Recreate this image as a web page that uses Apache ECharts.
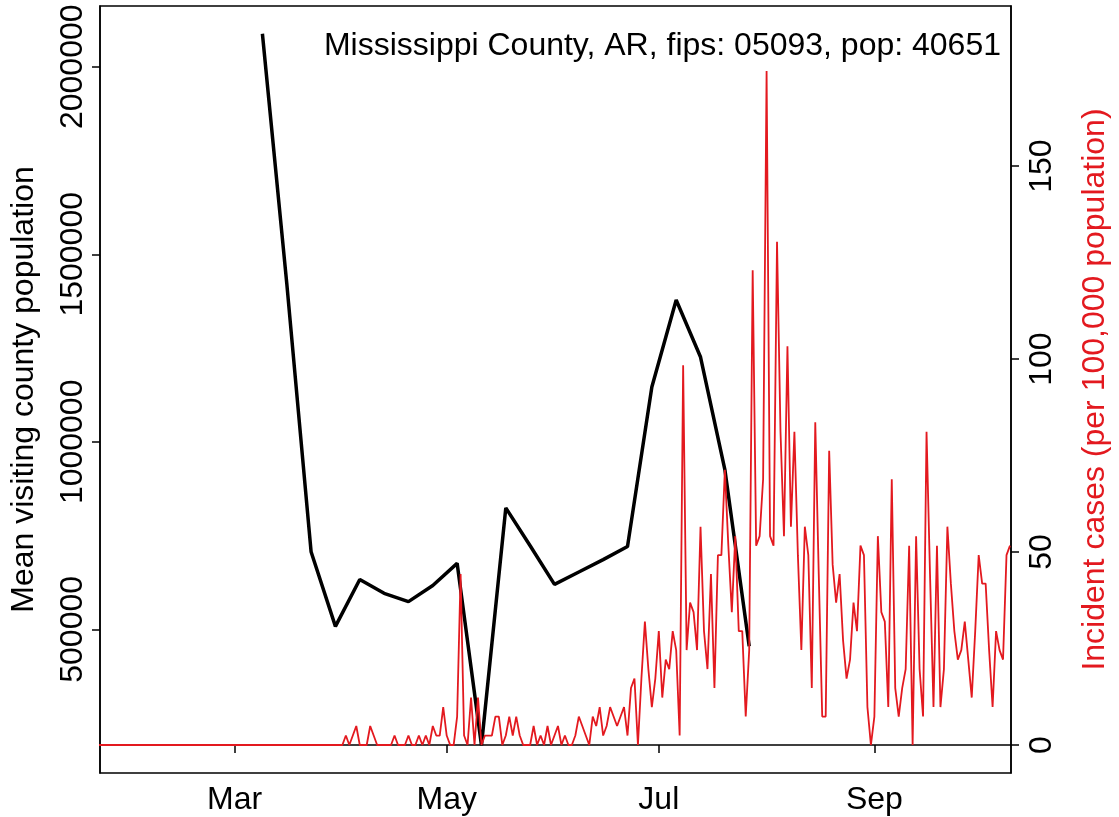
<!DOCTYPE html>
<html>
<head>
<meta charset="utf-8">
<script src="https://cdn.jsdelivr.net/npm/echarts@6/dist/echarts.min.js"></script>
<style>
  html, body { margin: 0; padding: 0; background: #ffffff; }
  #chart { width: 1119px; height: 817px; }
</style>
</head>
<body>
<div id="chart"></div>
<script>
// ---------- data ----------
const titleText = 'Mississippi County, AR, fips: 05093, pop: 40651';
const leftAxisTitle = 'Mean visiting county population';
const rightAxisTitle = 'Incident cases (per 100,000 population)';

// x-axis ticks (every other month)
const xTickDates = ['2020-03-01', '2020-05-01', '2020-07-01', '2020-09-01'];
const xTickLabels = ['Mar', 'May', 'Jul', 'Sep'];
const xRange = ['2020-01-22T07:00', '2020-10-10T07:00'];

// left axis ticks / right axis ticks
const leftTicks = [500000, 1000000, 1500000, 2000000];
const rightTicks = [0, 50, 100, 150];

// weekly mean visiting county population (black line)
const blackDates = ['2020-03-09', '2020-03-16', '2020-03-23', '2020-03-30', '2020-04-06', '2020-04-13',
  '2020-04-20', '2020-04-27', '2020-05-04', '2020-05-11', '2020-05-18', '2020-05-25', '2020-06-01',
  '2020-06-08', '2020-06-15', '2020-06-22', '2020-06-29', '2020-07-06', '2020-07-13', '2020-07-20',
  '2020-07-27'];
const blackValues = [2088000, 1423000, 707000, 508000, 633000, 596000,
  574000, 617000, 676000, 191000, 824000, 723000, 620000,
  653000, 686000, 721000, 1146000, 1378000, 1226000, 926000,
  455000];

// daily incident cases per 100,000 (red line), starting 2020-01-22
const redStart = '2020-01-22';
const redValues = [
  // Jan 22 - Apr 1
  0,0,0,0,0,0,0,0,0,0, 0,0,0,0,0,0,0,0,0,0, 0,0,0,0,0,0,0,0,0,0,
  0,0,0,0,0,0,0,0,0,0, 0,0,0,0,0,0,0,0,0,0, 0,0,0,0,0,0,0,0,0,0,
  0,0,0,0,0,0,0,0,0,0, 0,
  // Apr 2 - Oct 10
  2.46, 0, 2.46, 4.92, 0, 0, 0, 4.92, 2.46, 0,
  0, 0, 0, 0, 2.46, 0, 0, 0, 2.46, 0,
  0, 2.46, 0, 2.46, 0, 4.92, 2.46, 2.46, 9.84, 2.46,
  0, 0, 7.38, 44.28, 2.46, 0, 12.3, 0, 12.3, 0,
  2.46, 2.46, 2.46, 7.38, 7.38, 0, 2.46, 7.38, 2.46, 7.38,
  2.46, 0, 0, 0, 4.92, 0, 2.46, 0, 4.92, 0,
  2.46, 4.92, 0, 2.46, 0, 0, 2.46, 7.38, 4.92, 2.46,
  0, 7.38, 4.92, 9.84, 2.46, 4.92, 9.84, 7.38, 4.92, 7.38,
  9.84, 2.46, 14.76, 17.22, 0, 17.22, 31.98, 19.68, 9.84, 17.22,
  29.52, 12.3, 22.14, 19.68, 29.52, 24.6, 2.46, 98.4, 24.6, 36.9,
  34.44, 24.6, 56.58, 29.52, 19.68, 44.28, 14.76, 49.2, 49.2, 71.34,
  51.66, 34.44, 54.12, 29.52, 29.52, 7.38, 24.6, 123, 51.66, 54.12,
  68.88, 174.66, 54.12, 51.66, 130.38, 81.18, 54.12, 103.32, 56.58, 81.18,
  49.2, 24.6, 56.58, 49.2, 14.76, 83.64, 44.28, 7.38, 7.38, 76.26,
  46.74, 36.9, 44.28, 27.06, 17.22, 22.14, 36.9, 29.52, 51.66, 49.2,
  9.84, 0, 7.38, 54.12, 34.44, 31.98, 9.84, 68.88, 14.76, 7.38,
  14.76, 19.68, 51.66, 0, 54.12, 19.68, 7.38, 81.18, 44.28, 9.84,
  51.66, 9.84, 19.68, 56.58, 41.82, 29.52, 22.14, 24.6, 31.98, 22.14,
  12.3, 29.52, 49.2, 41.82, 41.82, 24.6, 9.84, 29.52, 24.6, 22.14,
  49.2, 51.66
];

// ---------- helpers ----------
function toTime(s) {
  // 'YYYY-MM-DD' or 'YYYY-MM-DDTHH:mm' -> local timestamp
  const y = +s.slice(0, 4), m = +s.slice(5, 7) - 1, d = +s.slice(8, 10);
  const h = s.length > 10 ? +s.slice(11, 13) : 0;
  return new Date(y, m, d, h).getTime();
}
const DAY = 86400000;
const xTickTimes = xTickDates.map(toTime);
const blackData = blackDates.map((d, i) => [toTime(d), blackValues[i]]);
const redT0 = new Date(toTime(redStart));
const redData = redValues.map((v, i) =>
  [new Date(redT0.getFullYear(), redT0.getMonth(), redT0.getDate() + i).getTime(), v]);

const FONT = 'Liberation Sans, Arial, Helvetica, sans-serif';
const RED = '#e3191f';

const chart = echarts.init(document.getElementById('chart'), null, { renderer: 'canvas' });

const option = {
  animation: false,
  backgroundColor: '#ffffff',
  grid: {
    left: 98, right: 99, top: 6, bottom: 44,
    show: true, borderColor: '#000', borderWidth: 1.5, backgroundColor: 'transparent'
  },
  graphic: [{
    type: 'text',
    right: 118,
    top: 30,
    style: { text: titleText, font: '32px ' + FONT, fill: '#000' }
  }],
  xAxis: {
    type: 'value',
    min: toTime(xRange[0]),
    max: toTime(xRange[1]),
    splitLine: { show: false },
    axisLine: { show: true, lineStyle: { color: '#000', width: 1.5 } },
    axisTick: { show: true, customValues: xTickTimes, length: 8, lineStyle: { color: '#000', width: 1.5 } },
    axisLabel: {
      customValues: xTickTimes,
      margin: 11,
      fontSize: 32, fontFamily: FONT, color: '#000',
      formatter: function (v) {
        for (let i = 0; i < xTickTimes.length; i++) {
          if (Math.abs(xTickTimes[i] - v) < DAY / 2) return xTickLabels[i];
        }
        return '';
      }
    }
  },
  yAxis: [{
    type: 'value',
    position: 'left',
    min: 117000, max: 2162000,
    splitLine: { show: false },
    axisLine: { show: true, lineStyle: { color: '#000', width: 1.5 } },
    axisTick: { show: true, customValues: leftTicks, length: 8, lineStyle: { color: '#000', width: 1.5 } },
    axisLabel: {
      customValues: leftTicks, rotate: 90, margin: 11,
      fontSize: 32, fontFamily: FONT, color: '#000',
      formatter: function (v) { return String(v); }
    },
    name: leftAxisTitle, nameLocation: 'middle', nameRotate: 90, nameGap: 60,
    nameTextStyle: { fontSize: 32, fontFamily: FONT, color: '#000' }
  }, {
    type: 'value',
    position: 'right',
    min: -7.25, max: 191.5,
    splitLine: { show: false },
    axisLine: { show: true, lineStyle: { color: '#000', width: 1.5 } },
    axisTick: { show: true, customValues: rightTicks, length: 8, lineStyle: { color: '#000', width: 1.5 } },
    axisLabel: {
      customValues: rightTicks, rotate: 90, margin: 15,
      fontSize: 32, fontFamily: FONT, color: '#000',
      formatter: function (v) { return String(v); }
    },
    name: rightAxisTitle, nameLocation: 'middle', nameRotate: 90, nameGap: 68,
    nameTextStyle: { fontSize: 32, fontFamily: FONT, color: RED }
  }],
  series: [{
    type: 'line',
    yAxisIndex: 0,
    data: blackData,
    symbol: 'none',
    lineStyle: { color: '#000', width: 3.5 },
    z: 2
  }, {
    type: 'line',
    yAxisIndex: 1,
    data: redData,
    symbol: 'none',
    clip: true,
    lineStyle: { color: RED, width: 1.8 },
    z: 3
  }]
};

chart.setOption(option);
</script>
</body>
</html>
